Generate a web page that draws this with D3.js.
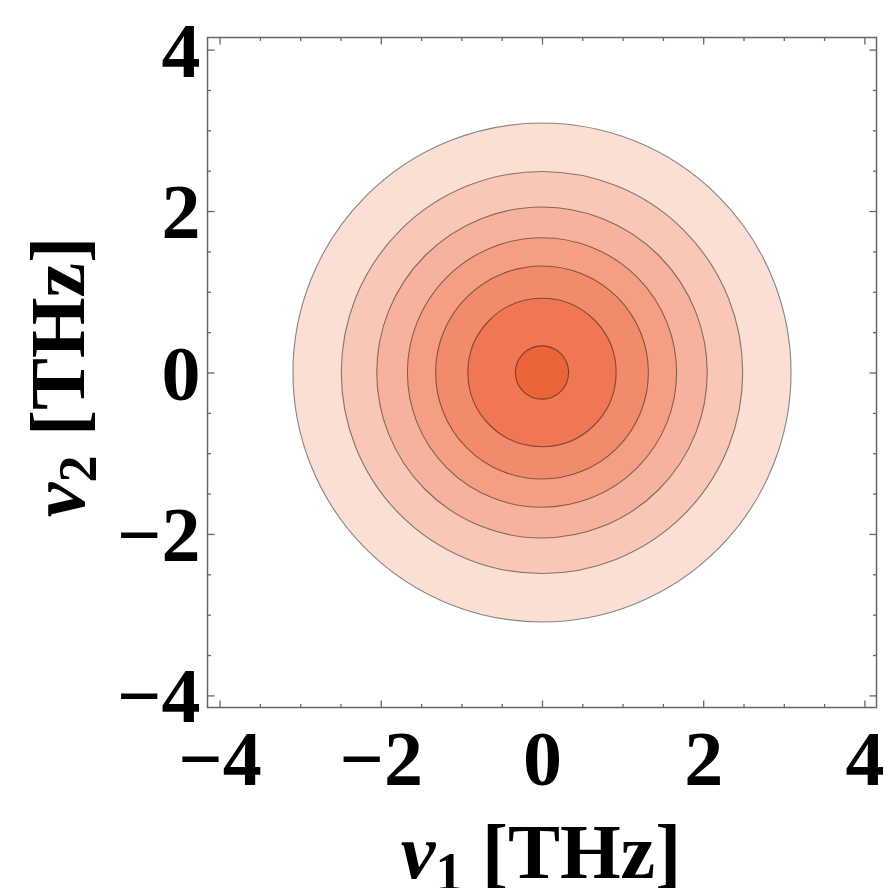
<!DOCTYPE html>
<html>
<head>
<meta charset="utf-8">
<script src="https://cdn.jsdelivr.net/npm/d3@7"></script>
<style>
  body { margin: 0; background: #fff; }
  svg text { font-family: "Liberation Serif", "Times New Roman", serif; font-weight: bold; fill: #000; }
</style>
</head>
<body>
<div id="chart"></div>
<script>
// Contour radii (THz), outermost first
const contourRadii = [3.09, 2.49, 2.05, 1.67, 1.32, 0.92, 0.33];
// Fill for each band, outermost first
const bandColors = ["#fbdfd5", "#f8c7b6", "#f6b29c", "#f49f83", "#f28b6b", "#ef7753", "#ec6538"];
const majorTicks = [-4, -2, 0, 2, 4];
const minorTicks = d3.range(-4, 4.01, 0.5);

const width = 884, height = 888;

const svg = d3.select("#chart")
  .append("svg")
  .attr("width", width)
  .attr("height", height);

const x = d3.scaleLinear().domain([-4.15, 4.15]).range([207.5, 876.5]);
const y = d3.scaleLinear().domain([-4.15, 4.15]).range([707.5, 37.5]);

// Filled contour bands
svg.append("g")
  .selectAll("ellipse")
  .data(contourRadii)
  .join("ellipse")
  .attr("cx", x(0))
  .attr("cy", y(0))
  .attr("rx", d => x(d) - x(0))
  .attr("ry", d => y(0) - y(d))
  .attr("fill", (d, i) => bandColors[i])
  .attr("stroke", "#000")
  .attr("stroke-opacity", 0.45)
  .attr("stroke-width", 1.1);

// Frame
svg.append("rect")
  .attr("x", x.range()[0])
  .attr("y", y.range()[1])
  .attr("width", x.range()[1] - x.range()[0])
  .attr("height", y.range()[0] - y.range()[1])
  .attr("fill", "none")
  .attr("stroke", "#666")
  .attr("stroke-width", 1.5);

// Ticks on all four sides, pointing inward
function tickAxis(axisFn, scale, values, size, tx, ty) {
  const g = svg.append("g")
    .attr("transform", `translate(${tx},${ty})`)
    .call(axisFn(scale).tickValues(values).tickSize(size).tickFormat(""));
  g.select(".domain").remove();
  g.selectAll(".tick line").attr("stroke", "#666").attr("stroke-width", 1.3);
}
const minorOnly = minorTicks.filter(v => !majorTicks.includes(v));
[[minorOnly, 3.5], [majorTicks, 7]].forEach(([vals, len]) => {
  tickAxis(d3.axisBottom, x, vals, -len, 0, y.range()[0]);
  tickAxis(d3.axisTop, x, vals, -len, 0, y.range()[1]);
  tickAxis(d3.axisLeft, y, vals, -len, x.range()[0], 0);
  tickAxis(d3.axisRight, y, vals, -len, x.range()[1], 0);
});

// Tick labels
const xLab = svg.append("g")
  .attr("transform", `translate(0,${y.range()[0]})`)
  .call(d3.axisBottom(x).tickValues(majorTicks).tickSize(0));
xLab.select(".domain").remove();
xLab.selectAll("text")
  .attr("y", 77).attr("dy", null)
  .style("font-size", "78px");

const yLab = svg.append("g")
  .attr("transform", `translate(${x.range()[0]},0)`)
  .call(d3.axisLeft(y).tickValues(majorTicks).tickSize(0));
yLab.select(".domain").remove();
yLab.selectAll("text")
  .attr("x", -7).attr("dy", "0.34em")
  .style("font-size", "78px");

// Axis titles
function title(sub, tx, ty, rot) {
  const txt = svg.append("text")
    .attr("transform", `translate(${tx},${ty}) rotate(${rot})`)
    .attr("text-anchor", "middle")
    .style("font-size", "78px");
  txt.append("tspan").style("font-style", "italic").text("ν");
  txt.append("tspan").attr("dy", 12).style("font-size", "54px").text(sub);
  txt.append("tspan").attr("dy", -12).text(" [THz]");
}
title("1", 541, 878, 0);
title("2", 84, 377, -90);
</script>
</body>
</html>
